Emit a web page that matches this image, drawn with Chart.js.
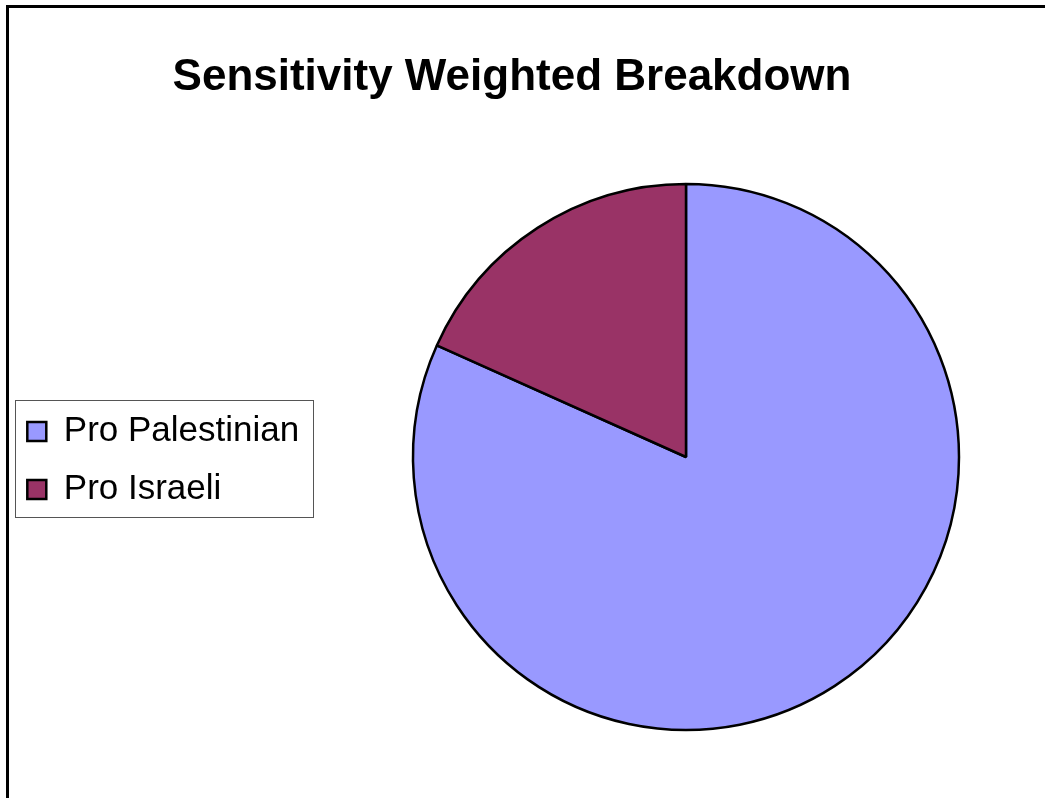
<!DOCTYPE html>
<html>
<head>
<meta charset="utf-8">
<script src="https://cdn.jsdelivr.net/npm/chart.js@4/dist/chart.umd.min.js"></script>
<style>
  html, body { margin: 0; padding: 0; background: #fff; overflow: hidden; width: 1045px; height: 798px; }
  #frame { position: absolute; left: 6px; top: 5px; width: 1200px; height: 900px;
           border-top: 3px solid #000; border-left: 3px solid #000; }
  #c { position: absolute; left: 0; top: 0; }
</style>
</head>
<body>
<div id="frame"></div>
<canvas id="c" width="1045" height="798"></canvas>
<script>
const titleText = 'Sensitivity Weighted Breakdown';
const categories = ['Pro Palestinian', 'Pro Israeli'];
const values = [81.7, 18.3];
const sliceColors = ['#9999FF', '#993366'];

Chart.defaults.font.family = '"Liberation Sans", Arial, Helvetica, sans-serif';
Chart.defaults.color = '#000';

const legendBorder = {
  id: 'legendBorder',
  afterDraw(chart) {
    const lg = chart.legend;
    if (!lg) return;
    const yc = (lg.top + lg.bottom) / 2;
    const x1 = 15.5;
    const x2 = Math.round(lg.right + 8.2) + 0.5;
    const y1 = Math.round(yc - 57) + 0.5;
    const y2 = Math.round(yc + 59.5) + 0.5;
    const ctx = chart.ctx;
    ctx.save();
    ctx.strokeStyle = '#555';
    ctx.lineWidth = 1;
    ctx.strokeRect(x1, y1, x2 - x1, y2 - y1);
    ctx.restore();
  }
};

new Chart(document.getElementById('c'), {
  type: 'pie',
  data: {
    labels: categories,
    datasets: [{
      data: values,
      backgroundColor: sliceColors,
      borderColor: '#000',
      borderWidth: 2.5
    }]
  },
  plugins: [legendBorder],
  options: {
    responsive: false,
    devicePixelRatio: 1,
    animation: false,
    events: [],
    radius: 273,
    layout: { padding: { left: 4.3, right: 25.3, top: 0, bottom: 11.6 } },
    plugins: {
      title: {
        display: true,
        text: titleText,
        color: '#000',
        font: { size: 44, weight: 'bold', lineHeight: 1.2 },
        padding: { top: 51.5, bottom: 23.3 }
      },
      subtitle: {
        display: true,
        text: '',
        position: 'left',
        weight: 10,
        font: { size: 12, lineHeight: 1 },
        padding: { top: 36, bottom: 0 }
      },
      legend: {
        display: true,
        position: 'left',
        align: 'center',
        fullSize: false,
        maxWidth: 300,
        title: {
          display: true,
          text: '',
          font: { size: 1, lineHeight: 1 },
          padding: { top: 6, bottom: 0 }
        },
        labels: {
          color: '#000',
          font: { size: 35 },
          boxWidth: 19,
          boxHeight: 19,
          padding: 23
        }
      },
      tooltip: { enabled: false }
    }
  }
});
</script>
</body>
</html>
